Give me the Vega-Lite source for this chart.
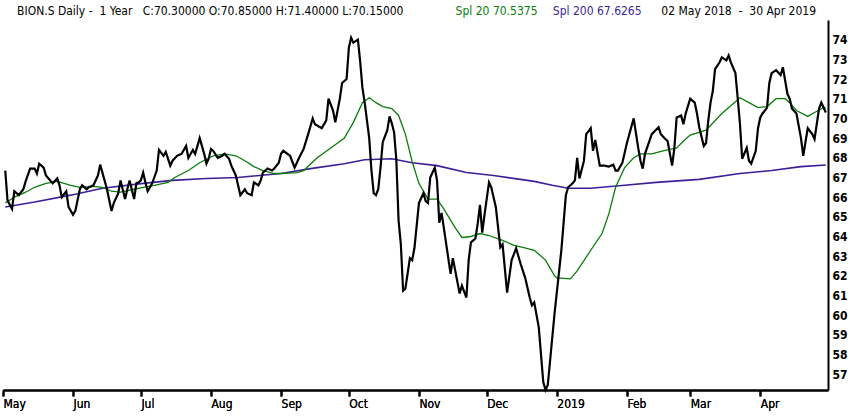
{
  "$schema": "https://vega.github.io/schema/vega-lite/v6.json",
  "description": "BION.S daily close with 20- and 200-day simple moving averages, 02 May 2018 - 30 Apr 2019.",
  "width": 825,
  "height": 370,
  "autosize": {"type": "none"},
  "padding": {"top": 20, "left": 3, "right": 22, "bottom": 27},
  "background": "white",
  "datasets": {
    "close": [
      {"d": "2018-05-02", "v": 67.35}, {"d": "2018-05-03", "v": 65.83}, {"d": "2018-05-05", "v": 65.4},
      {"d": "2018-05-06", "v": 66.3}, {"d": "2018-05-08", "v": 66.1}, {"d": "2018-05-10", "v": 66.4},
      {"d": "2018-05-11", "v": 66.8}, {"d": "2018-05-13", "v": 67.45}, {"d": "2018-05-15", "v": 67.45},
      {"d": "2018-05-16", "v": 67.2}, {"d": "2018-05-17", "v": 67.7}, {"d": "2018-05-19", "v": 67.5},
      {"d": "2018-05-20", "v": 67.1}, {"d": "2018-05-23", "v": 66.7}, {"d": "2018-05-25", "v": 66.95},
      {"d": "2018-05-26", "v": 66.6}, {"d": "2018-05-27", "v": 66.0}, {"d": "2018-05-29", "v": 66.3},
      {"d": "2018-05-30", "v": 65.5}, {"d": "2018-06-01", "v": 65.1}, {"d": "2018-06-02", "v": 65.3},
      {"d": "2018-06-04", "v": 66.4}, {"d": "2018-06-05", "v": 66.6}, {"d": "2018-06-07", "v": 66.4},
      {"d": "2018-06-08", "v": 66.5}, {"d": "2018-06-10", "v": 66.6}, {"d": "2018-06-12", "v": 67.1},
      {"d": "2018-06-13", "v": 67.65}, {"d": "2018-06-16", "v": 66.4}, {"d": "2018-06-18", "v": 65.3},
      {"d": "2018-06-19", "v": 65.7}, {"d": "2018-06-21", "v": 66.2}, {"d": "2018-06-22", "v": 66.85},
      {"d": "2018-06-24", "v": 65.9}, {"d": "2018-06-25", "v": 66.4}, {"d": "2018-06-26", "v": 66.85},
      {"d": "2018-06-28", "v": 65.9}, {"d": "2018-06-29", "v": 66.7}, {"d": "2018-06-30", "v": 66.75},
      {"d": "2018-07-01", "v": 66.85}, {"d": "2018-07-02", "v": 67.25}, {"d": "2018-07-03", "v": 66.75},
      {"d": "2018-07-04", "v": 66.3}, {"d": "2018-07-06", "v": 66.7}, {"d": "2018-07-08", "v": 67.35},
      {"d": "2018-07-09", "v": 68.4}, {"d": "2018-07-11", "v": 68.1}, {"d": "2018-07-12", "v": 68.3},
      {"d": "2018-07-14", "v": 67.6}, {"d": "2018-07-15", "v": 67.85}, {"d": "2018-07-17", "v": 68.1},
      {"d": "2018-07-19", "v": 68.2}, {"d": "2018-07-21", "v": 68.6}, {"d": "2018-07-22", "v": 68.0},
      {"d": "2018-07-24", "v": 68.4}, {"d": "2018-07-25", "v": 68.2}, {"d": "2018-07-27", "v": 69.0},
      {"d": "2018-07-29", "v": 68.2}, {"d": "2018-07-30", "v": 67.7}, {"d": "2018-07-31", "v": 67.95},
      {"d": "2018-08-01", "v": 68.45}, {"d": "2018-08-02", "v": 68.35}, {"d": "2018-08-04", "v": 68.0},
      {"d": "2018-08-06", "v": 68.1}, {"d": "2018-08-07", "v": 68.2}, {"d": "2018-08-09", "v": 67.95},
      {"d": "2018-08-10", "v": 67.6}, {"d": "2018-08-12", "v": 67.1}, {"d": "2018-08-13", "v": 66.6},
      {"d": "2018-08-14", "v": 66.1}, {"d": "2018-08-16", "v": 66.4}, {"d": "2018-08-17", "v": 66.2},
      {"d": "2018-08-19", "v": 66.1}, {"d": "2018-08-20", "v": 66.75}, {"d": "2018-08-22", "v": 66.6},
      {"d": "2018-08-23", "v": 66.85}, {"d": "2018-08-24", "v": 67.25}, {"d": "2018-08-26", "v": 67.45},
      {"d": "2018-08-28", "v": 67.35}, {"d": "2018-08-29", "v": 67.45}, {"d": "2018-08-31", "v": 67.75},
      {"d": "2018-09-01", "v": 68.2}, {"d": "2018-09-02", "v": 68.35}, {"d": "2018-09-05", "v": 68.1},
      {"d": "2018-09-07", "v": 67.5}, {"d": "2018-09-09", "v": 68.0}, {"d": "2018-09-11", "v": 68.45},
      {"d": "2018-09-13", "v": 69.2}, {"d": "2018-09-15", "v": 70.0}, {"d": "2018-09-16", "v": 69.7},
      {"d": "2018-09-19", "v": 69.5}, {"d": "2018-09-21", "v": 69.9}, {"d": "2018-09-22", "v": 71.0},
      {"d": "2018-09-24", "v": 70.4}, {"d": "2018-09-25", "v": 69.8}, {"d": "2018-09-27", "v": 71.0},
      {"d": "2018-09-28", "v": 71.8}, {"d": "2018-09-30", "v": 72.0}, {"d": "2018-10-01", "v": 73.6},
      {"d": "2018-10-02", "v": 74.1}, {"d": "2018-10-03", "v": 73.85}, {"d": "2018-10-05", "v": 74.0},
      {"d": "2018-10-06", "v": 72.9}, {"d": "2018-10-07", "v": 71.55}, {"d": "2018-10-08", "v": 70.8},
      {"d": "2018-10-10", "v": 69.0}, {"d": "2018-10-11", "v": 67.35}, {"d": "2018-10-12", "v": 66.2},
      {"d": "2018-10-13", "v": 66.1}, {"d": "2018-10-14", "v": 66.4}, {"d": "2018-10-15", "v": 67.5},
      {"d": "2018-10-16", "v": 68.8}, {"d": "2018-10-18", "v": 69.4}, {"d": "2018-10-19", "v": 70.1},
      {"d": "2018-10-20", "v": 69.75}, {"d": "2018-10-21", "v": 69.3}, {"d": "2018-10-22", "v": 67.9},
      {"d": "2018-10-23", "v": 64.8}, {"d": "2018-10-24", "v": 63.6}, {"d": "2018-10-25", "v": 61.25},
      {"d": "2018-10-26", "v": 61.35}, {"d": "2018-10-28", "v": 62.9}, {"d": "2018-10-29", "v": 62.8},
      {"d": "2018-10-30", "v": 63.4}, {"d": "2018-11-01", "v": 65.7}, {"d": "2018-11-03", "v": 66.2},
      {"d": "2018-11-04", "v": 65.8}, {"d": "2018-11-05", "v": 65.7}, {"d": "2018-11-06", "v": 67.0},
      {"d": "2018-11-08", "v": 67.5}, {"d": "2018-11-09", "v": 66.85}, {"d": "2018-11-10", "v": 64.7},
      {"d": "2018-11-11", "v": 65.2}, {"d": "2018-11-12", "v": 64.45}, {"d": "2018-11-15", "v": 62.1},
      {"d": "2018-11-16", "v": 62.9}, {"d": "2018-11-17", "v": 62.3}, {"d": "2018-11-19", "v": 61.1},
      {"d": "2018-11-20", "v": 61.5}, {"d": "2018-11-22", "v": 60.9}, {"d": "2018-11-23", "v": 62.8},
      {"d": "2018-11-24", "v": 63.7}, {"d": "2018-11-26", "v": 63.9}, {"d": "2018-11-27", "v": 64.65},
      {"d": "2018-11-28", "v": 65.6}, {"d": "2018-11-29", "v": 64.2}, {"d": "2018-11-30", "v": 65.1},
      {"d": "2018-12-02", "v": 66.75}, {"d": "2018-12-03", "v": 66.5}, {"d": "2018-12-05", "v": 65.5},
      {"d": "2018-12-07", "v": 63.45}, {"d": "2018-12-08", "v": 63.6}, {"d": "2018-12-10", "v": 61.15},
      {"d": "2018-12-12", "v": 62.8}, {"d": "2018-12-14", "v": 63.4}, {"d": "2018-12-16", "v": 62.6},
      {"d": "2018-12-18", "v": 61.9}, {"d": "2018-12-20", "v": 60.9}, {"d": "2018-12-21", "v": 60.5},
      {"d": "2018-12-22", "v": 60.65}, {"d": "2018-12-24", "v": 59.4}, {"d": "2018-12-26", "v": 56.6},
      {"d": "2018-12-27", "v": 56.2}, {"d": "2018-12-28", "v": 56.45}, {"d": "2018-12-31", "v": 60.1},
      {"d": "2019-01-03", "v": 63.3}, {"d": "2019-01-05", "v": 66.1}, {"d": "2019-01-06", "v": 66.5},
      {"d": "2019-01-08", "v": 66.7}, {"d": "2019-01-09", "v": 66.85}, {"d": "2019-01-10", "v": 68.0},
      {"d": "2019-01-11", "v": 66.95}, {"d": "2019-01-13", "v": 67.85}, {"d": "2019-01-14", "v": 69.2},
      {"d": "2019-01-16", "v": 69.5}, {"d": "2019-01-17", "v": 68.35}, {"d": "2019-01-18", "v": 68.9},
      {"d": "2019-01-20", "v": 67.6}, {"d": "2019-01-22", "v": 67.6}, {"d": "2019-01-24", "v": 67.55},
      {"d": "2019-01-26", "v": 67.65}, {"d": "2019-01-27", "v": 67.35}, {"d": "2019-01-28", "v": 67.35},
      {"d": "2019-01-30", "v": 67.75}, {"d": "2019-02-01", "v": 68.75}, {"d": "2019-02-04", "v": 70.0},
      {"d": "2019-02-06", "v": 68.5}, {"d": "2019-02-07", "v": 67.85}, {"d": "2019-02-08", "v": 67.45},
      {"d": "2019-02-09", "v": 68.2}, {"d": "2019-02-12", "v": 69.2}, {"d": "2019-02-15", "v": 69.55},
      {"d": "2019-02-16", "v": 69.2}, {"d": "2019-02-18", "v": 68.95}, {"d": "2019-02-19", "v": 68.85},
      {"d": "2019-02-21", "v": 67.6}, {"d": "2019-02-22", "v": 68.5}, {"d": "2019-02-23", "v": 70.05},
      {"d": "2019-02-25", "v": 70.15}, {"d": "2019-02-26", "v": 69.7}, {"d": "2019-02-27", "v": 70.25},
      {"d": "2019-03-01", "v": 71.0}, {"d": "2019-03-03", "v": 70.8}, {"d": "2019-03-04", "v": 70.25},
      {"d": "2019-03-05", "v": 69.55}, {"d": "2019-03-07", "v": 68.6}, {"d": "2019-03-08", "v": 68.75},
      {"d": "2019-03-09", "v": 69.9}, {"d": "2019-03-10", "v": 70.8}, {"d": "2019-03-11", "v": 71.4},
      {"d": "2019-03-12", "v": 72.5}, {"d": "2019-03-14", "v": 72.85}, {"d": "2019-03-15", "v": 73.1},
      {"d": "2019-03-17", "v": 72.95}, {"d": "2019-03-18", "v": 73.2}, {"d": "2019-03-19", "v": 72.85},
      {"d": "2019-03-21", "v": 72.3}, {"d": "2019-03-22", "v": 71.05}, {"d": "2019-03-23", "v": 69.75},
      {"d": "2019-03-24", "v": 67.95}, {"d": "2019-03-26", "v": 68.5}, {"d": "2019-03-27", "v": 67.85},
      {"d": "2019-03-28", "v": 67.7}, {"d": "2019-03-30", "v": 68.35}, {"d": "2019-03-31", "v": 69.5},
      {"d": "2019-04-01", "v": 70.05}, {"d": "2019-04-02", "v": 70.25}, {"d": "2019-04-04", "v": 70.55},
      {"d": "2019-04-05", "v": 71.8}, {"d": "2019-04-06", "v": 72.3}, {"d": "2019-04-08", "v": 72.45},
      {"d": "2019-04-10", "v": 72.2}, {"d": "2019-04-11", "v": 72.6}, {"d": "2019-04-13", "v": 71.25},
      {"d": "2019-04-14", "v": 71.0}, {"d": "2019-04-15", "v": 70.5}, {"d": "2019-04-17", "v": 70.25},
      {"d": "2019-04-19", "v": 69.0}, {"d": "2019-04-20", "v": 68.1}, {"d": "2019-04-22", "v": 69.5},
      {"d": "2019-04-24", "v": 69.2}, {"d": "2019-04-25", "v": 68.95}, {"d": "2019-04-27", "v": 70.5},
      {"d": "2019-04-28", "v": 70.8}, {"d": "2019-04-29", "v": 70.55}, {"d": "2019-04-30", "v": 70.3}
    ],
    "spl20": [
      {"d": "2018-05-02", "v": 65.7}, {"d": "2018-05-06", "v": 66.0}, {"d": "2018-05-11", "v": 66.25},
      {"d": "2018-05-15", "v": 66.5}, {"d": "2018-05-20", "v": 66.7}, {"d": "2018-05-25", "v": 66.8},
      {"d": "2018-05-31", "v": 66.6}, {"d": "2018-06-04", "v": 66.5}, {"d": "2018-06-10", "v": 66.55},
      {"d": "2018-06-14", "v": 66.5}, {"d": "2018-06-18", "v": 66.3}, {"d": "2018-06-22", "v": 66.25},
      {"d": "2018-06-28", "v": 66.4}, {"d": "2018-07-02", "v": 66.5}, {"d": "2018-07-07", "v": 66.6},
      {"d": "2018-07-13", "v": 66.75}, {"d": "2018-07-16", "v": 67.0}, {"d": "2018-07-22", "v": 67.35},
      {"d": "2018-07-27", "v": 67.75}, {"d": "2018-08-02", "v": 68.1}, {"d": "2018-08-07", "v": 68.2},
      {"d": "2018-08-12", "v": 68.1}, {"d": "2018-08-16", "v": 67.85}, {"d": "2018-08-20", "v": 67.55},
      {"d": "2018-08-24", "v": 67.35}, {"d": "2018-08-29", "v": 67.2}, {"d": "2018-09-01", "v": 67.2},
      {"d": "2018-09-08", "v": 67.25}, {"d": "2018-09-11", "v": 67.35}, {"d": "2018-09-17", "v": 68.0},
      {"d": "2018-09-23", "v": 68.5}, {"d": "2018-09-29", "v": 69.0}, {"d": "2018-10-03", "v": 69.8},
      {"d": "2018-10-07", "v": 70.8}, {"d": "2018-10-10", "v": 71.05}, {"d": "2018-10-13", "v": 70.8},
      {"d": "2018-10-16", "v": 70.6}, {"d": "2018-10-20", "v": 70.5}, {"d": "2018-10-23", "v": 70.15},
      {"d": "2018-10-26", "v": 69.2}, {"d": "2018-10-29", "v": 67.8}, {"d": "2018-11-01", "v": 66.7},
      {"d": "2018-11-05", "v": 65.9}, {"d": "2018-11-09", "v": 65.9}, {"d": "2018-11-12", "v": 65.4},
      {"d": "2018-11-17", "v": 64.45}, {"d": "2018-11-20", "v": 63.95}, {"d": "2018-11-24", "v": 64.0},
      {"d": "2018-11-28", "v": 64.15}, {"d": "2018-12-02", "v": 64.05}, {"d": "2018-12-08", "v": 63.8},
      {"d": "2018-12-13", "v": 63.55}, {"d": "2018-12-17", "v": 63.45}, {"d": "2018-12-22", "v": 63.3},
      {"d": "2018-12-27", "v": 62.8}, {"d": "2018-12-31", "v": 62.0}, {"d": "2019-01-01", "v": 61.9},
      {"d": "2019-01-07", "v": 61.85}, {"d": "2019-01-10", "v": 62.25}, {"d": "2019-01-16", "v": 63.3},
      {"d": "2019-01-21", "v": 64.15}, {"d": "2019-01-24", "v": 65.15}, {"d": "2019-01-27", "v": 66.5},
      {"d": "2019-01-31", "v": 67.5}, {"d": "2019-02-04", "v": 68.0}, {"d": "2019-02-07", "v": 68.2},
      {"d": "2019-02-12", "v": 68.2}, {"d": "2019-02-17", "v": 68.35}, {"d": "2019-02-21", "v": 68.45},
      {"d": "2019-02-23", "v": 68.5}, {"d": "2019-02-27", "v": 68.95}, {"d": "2019-03-01", "v": 69.15},
      {"d": "2019-03-08", "v": 69.4}, {"d": "2019-03-15", "v": 70.25}, {"d": "2019-03-23", "v": 71.05},
      {"d": "2019-03-27", "v": 70.8}, {"d": "2019-03-31", "v": 70.55}, {"d": "2019-04-04", "v": 70.6},
      {"d": "2019-04-08", "v": 71.0}, {"d": "2019-04-12", "v": 71.0}, {"d": "2019-04-14", "v": 70.8},
      {"d": "2019-04-17", "v": 70.4}, {"d": "2019-04-22", "v": 70.1}, {"d": "2019-04-25", "v": 70.3},
      {"d": "2019-04-29", "v": 70.55}, {"d": "2019-04-30", "v": 70.54}
    ],
    "spl200": [
      {"d": "2018-05-02", "v": 65.5}, {"d": "2018-05-15", "v": 65.75}, {"d": "2018-05-31", "v": 66.1},
      {"d": "2018-06-14", "v": 66.45}, {"d": "2018-07-02", "v": 66.7}, {"d": "2018-07-15", "v": 66.85},
      {"d": "2018-07-30", "v": 66.95}, {"d": "2018-08-13", "v": 67.0}, {"d": "2018-09-01", "v": 67.2},
      {"d": "2018-09-14", "v": 67.45}, {"d": "2018-09-29", "v": 67.7}, {"d": "2018-10-08", "v": 67.9},
      {"d": "2018-10-20", "v": 67.95}, {"d": "2018-10-29", "v": 67.75}, {"d": "2018-11-09", "v": 67.6},
      {"d": "2018-11-22", "v": 67.25}, {"d": "2018-12-04", "v": 67.1}, {"d": "2018-12-22", "v": 66.8},
      {"d": "2018-12-30", "v": 66.6}, {"d": "2019-01-06", "v": 66.45}, {"d": "2019-01-16", "v": 66.45},
      {"d": "2019-01-31", "v": 66.6}, {"d": "2019-02-14", "v": 66.75}, {"d": "2019-03-05", "v": 66.9},
      {"d": "2019-03-23", "v": 67.2}, {"d": "2019-04-06", "v": 67.35}, {"d": "2019-04-19", "v": 67.55},
      {"d": "2019-04-30", "v": 67.63}
    ]
  },
  "encoding": {
    "x": {
      "field": "d",
      "type": "temporal",
      "scale": {"type": "utc", "domain": [{"year": 2018, "month": 5, "date": 1, "utc": true}, {"year": 2019, "month": 4, "date": 30, "hours": 23, "utc": true}]},
      "axis": {
        "orient": "bottom",
        "title": null,
        "tickCount": {"interval": "month", "step": 1},
        "labelExpr": "utcmonth(datum.value) == 0 ? utcFormat(datum.value, '%Y') : utcFormat(datum.value, '%b')",
        "grid": false,
        "domainColor": "black",
        "domainWidth": 2,
        "tickColor": "black",
        "tickWidth": 2,
        "tickSize": 6,
        "labelAlign": "left",
        "labelPadding": 2,
        "labelFontSize": 12,
        "labelColor": "black",
        "labelFlush": false,
        "labelOverlap": false
      }
    },
    "y": {
      "field": "v",
      "type": "quantitative",
      "scale": {"domain": [56.2, 75], "zero": false, "nice": false},
      "axis": {
        "orient": "right",
        "title": null,
        "values": [57, 58, 59, 60, 61, 62, 63, 64, 65, 66, 67, 68, 69, 70, 71, 72, 73, 74],
        "ticks": false,
        "grid": false,
        "domainColor": "black",
        "domainWidth": 2,
        "labelPadding": 4,
        "labelFontSize": 12,
        "labelFontWeight": "bold",
        "labelColor": "black"
      }
    }
  },
  "layer": [
    {
      "data": {"name": "spl200"},
      "mark": {"type": "line", "color": "#3d1f99", "strokeWidth": 1.6},
      "encoding": {
        "x": {
          "field": "d",
          "type": "temporal",
          "axis": {
            "orient": "top",
            "title": null,
            "domain": false,
            "ticks": false,
            "grid": false,
            "values": [
              {"year": 2018, "month": 5, "date": 7, "utc": true},
              {"year": 2018, "month": 11, "date": 17, "utc": true},
              {"year": 2018, "month": 12, "date": 30, "utc": true},
              {"year": 2019, "month": 2, "date": 16, "utc": true}
            ],
            "labelExpr": "utcmonth(datum.value) == 4 ? 'BION.S Daily -\u00a0 1 Year\u00a0\u00a0 C:70.30000 O:70.85000 H:71.40000 L:70.15000' : utcmonth(datum.value) == 10 ? 'Spl 20 70.5375' : utcmonth(datum.value) == 11 ? 'Spl 200 67.6265' : '02 May 2018\u00a0 -\u00a0 30 Apr 2019'",
            "labelColor": {
              "condition": [
                {"test": "utcmonth(datum.value) == 10", "value": "#0a7d0a"},
                {"test": "utcmonth(datum.value) == 11", "value": "#3d1f99"}
              ],
              "value": "black"
            },
            "labelAlign": "left",
            "labelPadding": 3,
            "labelFontSize": 12,
            "labelLimit": 0,
            "labelOverlap": false,
            "labelBound": false,
            "labelFlush": false
          }
        }
      }
    },
    {
      "data": {"name": "spl20"},
      "mark": {"type": "line", "color": "#0a7d0a", "strokeWidth": 1.3}
    },
    {
      "data": {"name": "close"},
      "mark": {"type": "line", "color": "black", "strokeWidth": 2.2},
      "encoding": {
        "tooltip": [
          {"field": "d", "type": "temporal", "title": "Date"},
          {"field": "v", "type": "quantitative", "title": "Close", "format": ".2f"}
        ]
      }
    }
  ],
  "config": {
    "view": {"stroke": null},
    "font": "DejaVu Sans Condensed, Liberation Sans Narrow, Roboto, sans-serif"
  }
}
